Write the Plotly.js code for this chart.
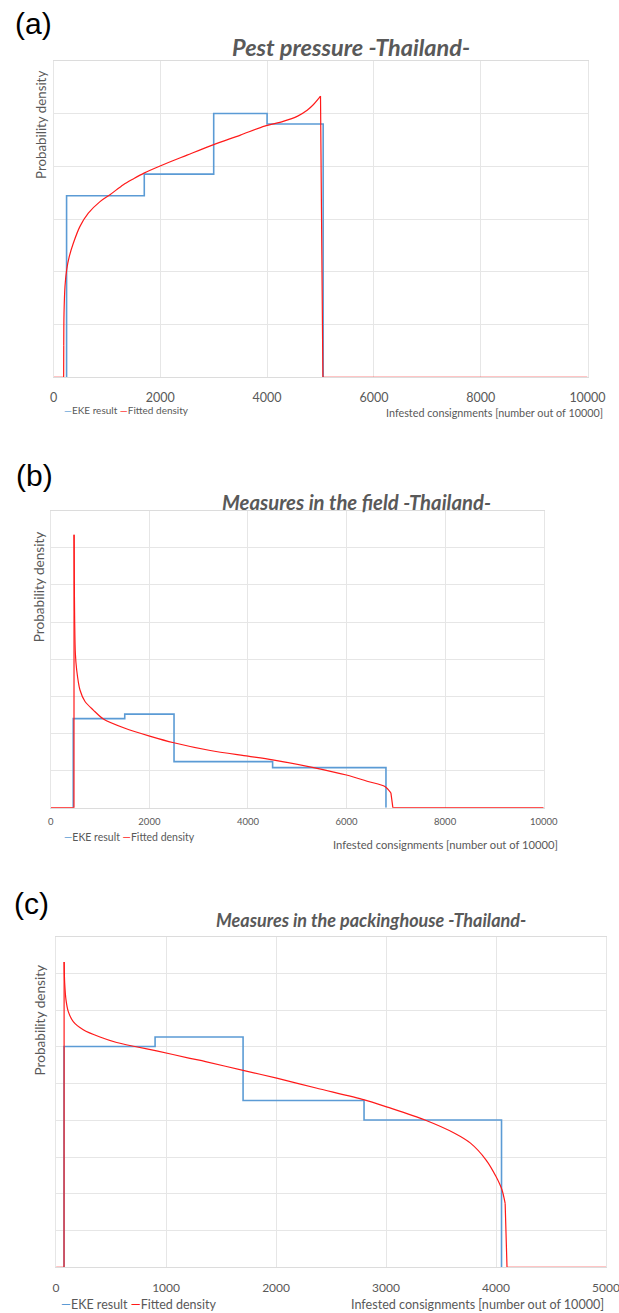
<!DOCTYPE html>
<html>
<head>
<meta charset="utf-8">
<script src="https://cdn.plot.ly/plotly-3.0.1.min.js"></script>
<style>html,body{margin:0;padding:0;background:#fff;}#chart{width:619px;height:1313px;}</style>
</head>
<body>
<div id="chart"></div>
<script>
// ---------- Data (densities in gridline units) ----------
// Panel (a) Pest pressure
const ekeAx = [245, 245, 1700, 3000, 4000, 5050];
const ekeAy = [0, 3.44, 3.85, 5.0, 4.80, 0];
const fitAx = [0, 190, 192, 197, 215, 247, 296, 371, 496, 652, 871, 1058, 1308, 1495, 1695, 2007, 2500, 3000, 3500, 3953, 4300, 4572, 4750, 4869, 4963, 5000, 5045, 10000];
const fitAy = [0, 0, 0.6, 1.21, 1.72, 2.04, 2.29, 2.54, 2.86, 3.11, 3.33, 3.46, 3.65, 3.76, 3.87, 4.01, 4.21, 4.41, 4.59, 4.76, 4.85, 4.95, 5.06, 5.17, 5.28, 5.33, 0, 0];

// Panel (b) Measures in the field
const ekeBx = [455, 455, 1500, 2500, 4500, 6800];
const ekeBy = [0, 2.40, 2.52, 1.24, 1.08, 0];
const fitBx = [0, 470, 472, 478, 484, 498, 525, 592, 694, 863, 1066, 1505, 2005, 2496, 3236, 4001, 4500, 5330, 5998, 6456, 6778, 6900, 6940, 10000];
const fitBy = [0, 0, 7.35, 6.0, 5.06, 4.16, 3.71, 3.17, 2.86, 2.63, 2.39, 2.14, 1.93, 1.75, 1.54, 1.39, 1.29, 1.08, 0.88, 0.70, 0.57, 0.40, 0, 0];

// Panel (c) Measures in the packinghouse
const ekeCx = [72, 72, 900, 1700, 2800, 4050];
const ekeCy = [0, 6.01, 6.27, 4.54, 4.01, 0];
const fitCx = [0, 72, 73, 78, 90, 111, 156, 247, 399, 551, 717, 914, 1217, 1359, 1700, 2006, 2364, 2803, 3012, 3354, 3623, 3768, 3910, 4000, 4054, 4083, 4100, 5000];
const fitCy = [0, 0, 8.31, 7.74, 7.28, 6.96, 6.69, 6.47, 6.27, 6.12, 6.01, 5.89, 5.69, 5.60, 5.36, 5.15, 4.88, 4.56, 4.36, 4.01, 3.65, 3.38, 2.92, 2.47, 2.11, 1.74, 0, 0];

const ticksAB = [0, 2000, 4000, 6000, 8000, 10000];
const ticksC = [0, 1000, 2000, 3000, 4000, 5000];

const panelLabels = ['(a)', '(b)', '(c)'];
const panelTitles = ['Pest pressure -Thailand-', 'Measures in the field -Thailand-', 'Measures in the packinghouse -Thailand-'];
const seriesNames = ['EKE result', 'Fitted density'];
const yTitle = 'Probability density';
const xTitle = 'Infested consignments [number out of 10000]';

// ---------- Styling ----------
const BLUE = '#5B9BD5', RED = '#FF1A1A', GRAY = '#595959', GRID = '#E6E6E6';
const FONT = 'Lato, "Open Sans", "DejaVu Sans", sans-serif';
const H = 1313, W = 619;
const py = p => 1 - p / H;   // pixel row -> paper y
const px = p => p / W;       // pixel col -> paper x

function step(x, y, xa, ya, name) {
  return {x: x, y: y, xaxis: xa, yaxis: ya, name: name, type: 'scatter', mode: 'lines',
          line: {color: BLUE, width: 1.6, shape: 'hv'}, hoverinfo: 'x+y'};
}
// fitted density: straight jumps at both ends, smooth curve in between
function fit(x, y, xa, ya, name, i0, i1) {
  const base = {xaxis: xa, yaxis: ya, name: name, type: 'scatter', mode: 'lines', hoverinfo: 'x+y'};
  return [
    Object.assign({x: x.slice(0, i0 + 1), y: y.slice(0, i0 + 1), line: {color: RED, width: 1.2}}, base),
    Object.assign({x: x.slice(i0, i1 + 1), y: y.slice(i0, i1 + 1), line: {color: RED, width: 1.2, shape: 'spline', smoothing: 0.8}}, base),
    Object.assign({x: x.slice(i1), y: y.slice(i1), line: {color: RED, width: 1.2}}, base)
  ];
}
const data = [].concat(
  [step(ekeAx, ekeAy, 'x', 'y', seriesNames[0])], fit(fitAx, fitAy, 'x', 'y', seriesNames[1], 2, 25),
  [step(ekeBx, ekeBy, 'x2', 'y2', seriesNames[0])], fit(fitBx, fitBy, 'x2', 'y2', seriesNames[1], 2, 21),
  [step(ekeCx, ekeCy, 'x3', 'y3', seriesNames[0])], fit(fitCx, fitCy, 'x3', 'y3', seriesNames[1], 2, 25)
);

function xax(dom, range, ticks, fs, anchor, standoff) {
  return {domain: dom, range: range, tickvals: ticks, ticktext: ticks.map(String), anchor: anchor,
          showgrid: true, gridcolor: GRID, gridwidth: 1, zeroline: false,
          showline: true, mirror: true, linecolor: '#DCDCDC', linewidth: 1,
          ticks: '', ticklabelstandoff: standoff, ticklabeloverflow: 'allow',
          tickfont: {family: FONT, size: fs, color: GRAY}, fixedrange: true};
}
function yax(dom, max, anchor) {
  return {domain: dom, range: [0, max], dtick: 1, anchor: anchor, showticklabels: false,
          showgrid: true, gridcolor: GRID, gridwidth: 1, zeroline: false,
          showline: true, mirror: true, linecolor: GRID, linewidth: 1, ticks: '', fixedrange: true};
}

const ann = [];
// panel letters
[[33, 23.5], [34.5, 475], [31.5, 903]].forEach((p, i) => ann.push({
  text: panelLabels[i], xref: 'paper', yref: 'paper', x: px(p[0]), y: py(p[1]),
  xanchor: 'center', yanchor: 'middle', showarrow: false,
  font: {family: '"Liberation Sans", Arial, sans-serif', size: 30, color: '#000'}}));
// chart titles
[[351, 46.7, 23.5], [356, 501.7, 20.3], [370.6, 920, 18]].forEach((p, i) => ann.push({
  text: '<b><i>' + panelTitles[i] + '</i></b>', xref: 'paper', yref: 'paper', x: px(p[0]), y: py(p[1]),
  xanchor: 'center', yanchor: 'middle', showarrow: false,
  font: {family: FONT, size: p[2], color: GRAY}}));
// y titles
[[40.9, 125, 13.3], [38.5, 586.7, 13.6], [39.5, 1020, 13.6]].forEach(p => ann.push({
  text: yTitle, xref: 'paper', yref: 'paper', x: px(p[0]), y: py(p[1]), textangle: -90,
  xanchor: 'center', yanchor: 'middle', showarrow: false,
  font: {family: FONT, size: p[2], color: GRAY}}));
// x titles
[[605, 413, 10.8], [559.5, 844, 11.2], [606, 1304, 12.6]].forEach(p => ann.push({
  text: xTitle, xref: 'paper', yref: 'paper', x: px(p[0]), y: py(p[1]),
  xanchor: 'right', yanchor: 'middle', showarrow: false,
  font: {family: FONT, size: p[2], color: GRAY}}));
// legends
[[61.5, 410, 10], [61.5, 837, 10.5], [58.5, 1304.3, 12.5]].forEach(p => ann.push({
  text: '<span style="color:' + BLUE + '">—</span>' + seriesNames[0] + ' <span style="color:' + RED + '">—</span>' + seriesNames[1],
  xref: 'paper', yref: 'paper', x: px(p[0]), y: py(p[1]),
  xanchor: 'left', yanchor: 'middle', showarrow: false,
  font: {family: FONT, size: p[2], color: GRAY}}));

const layout = {
  width: W, height: H, margin: {l: 0, r: 0, t: 0, b: 0},
  paper_bgcolor: '#fff', plot_bgcolor: '#fff', showlegend: false,
  font: {family: FONT, color: GRAY},
  xaxis: xax([px(53.5), px(587.5)], [0, 10000], ticksAB, 12.5, 'y', 9),
  yaxis: yax([py(377.3), py(60.7)], 6, 'x'),
  xaxis2: xax([px(50.8), px(543.7)], [0, 10000], ticksAB, 9.5, 'y2', 5),
  yaxis2: yax([py(807.7), py(510.7)], 8, 'x2'),
  xaxis3: xax([px(56.1), px(606)], [0, 5000], ticksC, 12, 'y3', 9),
  yaxis3: yax([py(1267.3), py(936.7)], 9, 'x3'),
  annotations: ann
};

Plotly.newPlot('chart', data, layout, {staticPlot: true, displayModeBar: false});
</script>
</body>
</html>
